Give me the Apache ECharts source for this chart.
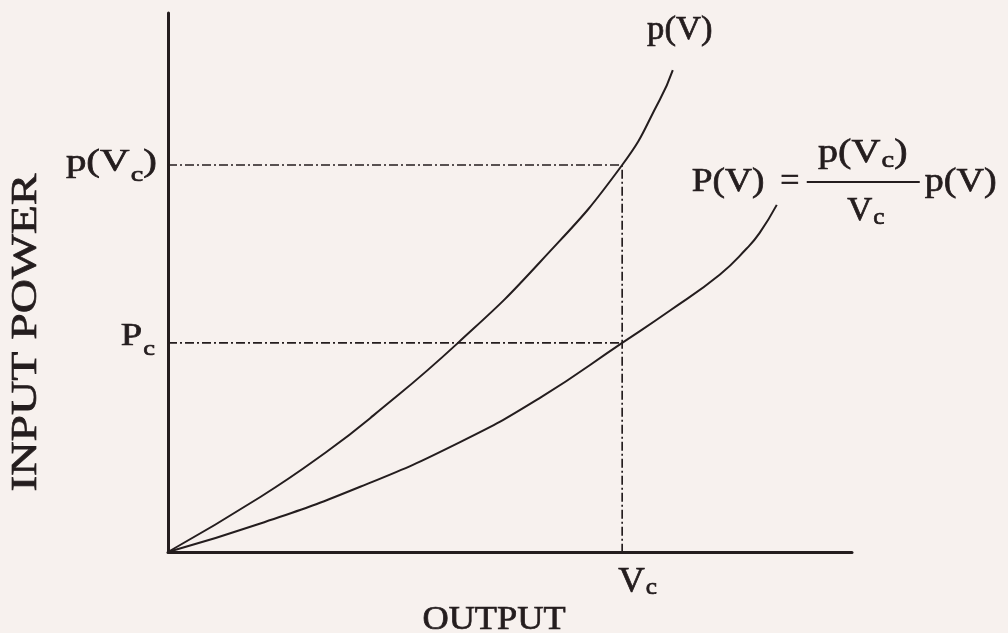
<!DOCTYPE html>
<html>
<head>
<meta charset="utf-8">
<script src="https://cdn.jsdelivr.net/npm/echarts@6/dist/echarts.min.js"></script>
<style>
  html, body { margin: 0; padding: 0; background: #f7f1ee; }
  #chart { width: 1008px; height: 633px; }
</style>
</head>
<body>
<div id="chart"></div>
<script>
// Input power versus output: characteristic p(V) and the scaled curve P(V)
// Points are [output, input power] on a 0..100 scale for both axes.
const pCurve = [[0, 0], [13.5, 10.2], [23.2, 18.6], [30.0, 25.3], [42.4, 38.8],
                [54.4, 53.8], [66.4, 71.8], [71.9, 83.9], [73.8, 89.4]];
const PCurve = [[0, 0], [13.5, 5.3], [28.1, 12.1], [42.7, 20.4], [54.5, 28.7],
                [66.4, 38.8], [73.4, 44.8], [80.7, 51.5], [84.6, 56.3], [86.5, 59.2], [89.0, 64.4]];

// Reference levels
const Vc = 66.4;    // output at the operating point
const pVc = 71.8;   // p(Vc)
const Pc = 38.8;    // P at Vc

const xRange = [0, 100];
const yRange = [0, 100];

const INK = '#241d1e';
const BG = '#f7f1ee';
const SERIF = '"Liberation Serif", "Times New Roman", serif';
const TEXT_STROKE = 0.7;

const chart = echarts.init(document.getElementById('chart'), null, { renderer: 'canvas' });

const axisCommon = {
  type: 'value',
  axisLine: { show: true, onZero: false, lineStyle: { color: INK, width: 3 } },
  axisTick: { show: false },
  axisLabel: { show: false },
  splitLine: { show: false }
};

const guideStyle = { color: INK, width: 1.7, type: [9, 3, 2, 3] };
const curveStyle = { color: INK, width: 2 };

chart.setOption({
  backgroundColor: BG,
  animation: false,
  grid: { left: 168, top: 13, right: 156, bottom: 81 },
  xAxis: Object.assign({}, axisCommon, { min: xRange[0], max: xRange[1] }),
  yAxis: Object.assign({}, axisCommon, { min: yRange[0], max: yRange[1] }),
  series: [
    { name: 'p(V)', type: 'line', data: pCurve, smooth: 0.5,
      showSymbol: false, lineStyle: curveStyle, z: 3 },
    { name: 'P(V)', type: 'line', data: PCurve, smooth: 0.5,
      showSymbol: false, lineStyle: curveStyle, z: 3 },
    { name: 'guide p(Vc)', type: 'line', data: [[xRange[0], pVc], [Vc, pVc], [Vc, yRange[0]]],
      showSymbol: false, lineStyle: guideStyle, z: 2 },
    { name: 'guide Pc', type: 'line', data: [[xRange[0], Pc], [Vc, Pc]],
      showSymbol: false, lineStyle: guideStyle, z: 2 }
  ]
});

const toPx = p => chart.convertToPixel({ gridIndex: 0 }, p);

// Rich text styles: m = main glyphs, s = lowered subscript
function richStyles(main, sub, drop) {
  return {
    m: { fontFamily: SERIF, fontSize: main, lineHeight: 48, fill: INK,
         stroke: INK, lineWidth: TEXT_STROKE },
    s: { fontFamily: SERIF, fontSize: sub, lineHeight: 48, fill: INK,
         stroke: INK, lineWidth: TEXT_STROKE, padding: [drop, 0, 0, 1] }
  };
}

function label(x, y, text, opts) {
  opts = opts || {};
  return {
    type: 'text', x: x, y: y,
    rotation: opts.rotation || 0,
    scaleX: opts.scaleX || 1,
    silent: true, z: 10,
    style: {
      text: text, x: 0, y: 0,
      fill: INK,
      stroke: INK, lineWidth: TEXT_STROKE,
      font: (opts.size || 34) + 'px ' + SERIF,
      rich: opts.rich,
      textAlign: opts.align || 'left',
      textVerticalAlign: 'middle',
      verticalAlign: 'middle'
    }
  };
}

const origin = toPx([xRange[0], yRange[0]]);
const pVcPt = toPx([xRange[0], pVc]);
const PcPt = toPx([xRange[0], Pc]);
const VcPt = toPx([Vc, yRange[0]]);
const pEnd = toPx(pCurve[pCurve.length - 1]);
const PEnd = toPx(PCurve[PCurve.length - 1]);

const graphics = [
  // axis names
  label(origin[0] + 326, origin[1] + 68, 'OUTPUT', { size: 33, align: 'center', scaleX: 1.1 }),
  label(27, (origin[1] + 13) / 2 + 50, 'INPUT POWER', { size: 36, align: 'center', rotation: Math.PI / 2, scaleX: 1.32 }),

  // value marks on the axes
  label(pVcPt[0] - 11, pVcPt[1] - 2, '{m|p(}{m|V}{s|c}{m|)}',
        { rich: richStyles(32, 22, 24), align: 'right', scaleX: 1.28 }),
  label(PcPt[0] - 13, PcPt[1] - 6, '{m|P}{s|c}',
        { rich: richStyles(32, 22, 24), align: 'right', scaleX: 1.2 }),
  label(VcPt[0] - 4, VcPt[1] + 31, '{m|V}{s|c}',
        { rich: richStyles(35, 24, 10), align: 'left', scaleX: 1.05 }),

  // curve name at the end of p(V)
  label(pEnd[0] + 7, pEnd[1] - 40, 'p(V)', { size: 34, align: 'center', scaleX: 1.02 }),

  // formula for P(V) beside the end of its curve
  {
    type: 'group', x: PEnd[0], y: PEnd[1], silent: true,
    children: [
      label(-85, -23, 'P(V)', { size: 34, align: 'left', scaleX: 1.1 }),
      label(13, -23, '=', { size: 34, align: 'center' }),
      { type: 'line', z: 10, shape: { x1: 30, y1: -23, x2: 143, y2: -23 },
        style: { stroke: INK, lineWidth: 2 } },
      label(86, -52, '{m|p(}{m|V}{s|c}{m|)}', { rich: richStyles(34, 24, 16), align: 'center', scaleX: 1.18 }),
      label(89, 6, '{m|V}{s|c}', { rich: richStyles(33, 24, 14), align: 'center', scaleX: 1.05 }),
      label(148, -23, 'p(V)', { size: 34, align: 'left', scaleX: 1.12 })
    ]
  }
];

chart.setOption({ graphic: graphics });
</script>
</body>
</html>
